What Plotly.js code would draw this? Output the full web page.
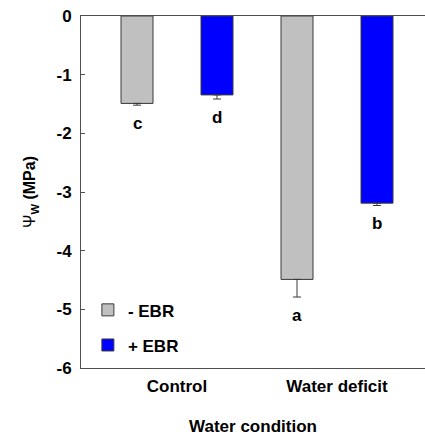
<!DOCTYPE html>
<html>
<head>
<meta charset="utf-8">
<script src="https://cdn.plot.ly/plotly-3.0.1.min.js"></script>
<style>html,body{margin:0;padding:0;background:#fff;}#chart{width:425px;height:437px;}</style>
</head>
<body>
<div id="chart"></div>
<script>
var categories = ['Control', 'Water deficit'];
var seriesNames = ['- EBR', '+ EBR'];
var minusEBR = [-1.49, -4.49];
var plusEBR = [-1.345, -3.19];
var minusEBRErr = [0.03, 0.30];
var plusEBRErr = [0.07, 0.04];
var minusLetters = ['c', 'a'];
var plusLetters = ['d', 'b'];
var yTicks = [0, -1, -2, -3, -4, -5, -6];

var FONT = 'Liberation Sans, Arial, sans-serif';

function barTrace(name, vals, errs, color, offset, group) {
  return {
    type: 'bar', name: name, x: categories, y: vals,
    width: 0.2, offset: offset,
    marker: {color: color, line: {color: '#3a3a3a', width: 1}},
    error_y: {type: 'data', symmetric: false, array: errs.map(function(){return 0;}), arrayminus: errs,
              color: '#3a3a3a', thickness: 1, width: 4},
    legendgroup: group
  };
}

var traces = [
  barTrace(seriesNames[0], minusEBR, minusEBRErr, '#c0c0c0', -0.35, 'g1'),
  barTrace(seriesNames[1], plusEBR, plusEBRErr, '#0000ff', 0.15, 'g2')
];

var annotations = [];
function addLetters(letters, vals, errs, shift) {
  for (var i = 0; i < letters.length; i++) {
    annotations.push({
      x: i + shift, y: vals[i] - errs[i], xref: 'x', yref: 'y',
      text: '<b>' + letters[i] + '</b>', showarrow: false,
      yanchor: 'middle', yshift: -18,
      font: {family: FONT, size: 17, color: '#000'}
    });
  }
}
addLetters(minusLetters, minusEBR, minusEBRErr, -0.25);
addLetters(plusLetters, plusEBR, plusEBRErr, 0.25);

var layout = {
  width: 425, height: 437,
  margin: {l: 81, r: 0, t: 16, b: 69},
  paper_bgcolor: '#fff', plot_bgcolor: '#fff',
  barmode: 'group',
  showlegend: true,
  legend: {x: 0.02, y: 0.215, xanchor: 'left', yanchor: 'top', bgcolor: 'rgba(0,0,0,0)',
           font: {family: FONT, size: 17, color: '#000', weight: 'bold'},
           traceorder: 'grouped', tracegroupgap: 10, itemwidth: 30},
  xaxis: {
    type: 'category', range: [-0.6, 1.55],
    showline: true, mirror: true, linecolor: '#505050', linewidth: 1,
    ticks: '', showgrid: false, zeroline: false,
    tickfont: {family: FONT, size: 17, color: '#000', weight: 'bold'},
    ticklabelstandoff: 3,
    title: {text: '<b>Water condition</b>', font: {family: FONT, size: 17, color: '#000'}, standoff: 24}
  },
  yaxis: {
    range: [-6, 0], tickvals: yTicks, ticktext: yTicks.map(String),
    showline: true, linecolor: '#505050', linewidth: 1,
    ticks: 'inside', ticklen: 4, tickcolor: '#505050',
    showgrid: false, zeroline: false,
    ticklabelstandoff: 5,
    tickfont: {family: FONT, size: 17, color: '#000', weight: 'bold'},
    title: {text: 'Ψ<sub><b>W</b></sub> <b>(MPa)</b>', font: {family: FONT, size: 16, color: '#000'}, standoff: 16}
  },
  annotations: annotations
};

Plotly.newPlot('chart', traces, layout, {displayModeBar: false, staticPlot: true});
</script>
</body>
</html>
